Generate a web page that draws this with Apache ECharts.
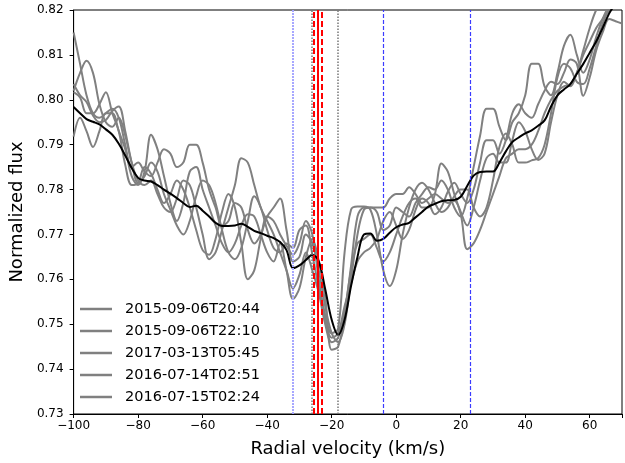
<!DOCTYPE html>
<html>
<head>
<meta charset="utf-8">
<script src="https://cdn.jsdelivr.net/npm/echarts@6/dist/echarts.min.js"></script>
<style>
  html, body { margin: 0; padding: 0; background: #fff; }
  #chart { width: 625px; height: 463px; }
</style>
</head>
<body>
<div id="chart"></div>
<script>
// radial velocity grid (km/s), step 2
var velocity = [];
for (var v = -100; v <= 70; v += 2) velocity.push(v);

var names = ["2015-09-06T20:44", "2015-09-06T22:10", "2017-03-13T05:45", "2016-07-14T02:51", "2016-07-15T02:24"];

var s1 = [0.815, 0.808, 0.801, 0.797, 0.796, 0.797, 0.798, 0.796, 0.790, 0.785,
          0.786, 0.784, 0.783, 0.786, 0.789, 0.788, 0.785, 0.786, 0.790, 0.790,
          0.786, 0.780, 0.776, 0.772, 0.773, 0.777, 0.776, 0.771, 0.768, 0.770,
          0.774, 0.776, 0.778, 0.771, 0.764, 0.765, 0.770, 0.768, 0.762, 0.754,
          0.748, 0.746, 0.750, 0.760, 0.770, 0.7755, 0.776, 0.775, 0.771, 0.772,
          0.776, 0.775, 0.774, 0.777, 0.779, 0.7805, 0.780, 0.782, 0.780, 0.776,
          0.774, 0.778, 0.785, 0.792, 0.798, 0.798, 0.794, 0.791, 0.795, 0.797,
          0.801, 0.808, 0.808, 0.803, 0.801, 0.806, 0.812, 0.8145, 0.810, 0.806,
          0.809, 0.814, 0.818, 0.821, 0.823, 0.824];
var s2 = [0.802, 0.806, 0.8087, 0.806, 0.799, 0.795, 0.794, 0.796, 0.792, 0.786,
          0.782, 0.781, 0.782, 0.779, 0.776, 0.775, 0.778, 0.782, 0.781, 0.776,
          0.770, 0.7645, 0.766, 0.771, 0.776, 0.781, 0.787, 0.786, 0.781, 0.776,
          0.773, 0.770, 0.766, 0.762, 0.758, 0.761, 0.766, 0.762, 0.757, 0.750,
          0.746, 0.747, 0.753, 0.762, 0.768, 0.769, 0.770, 0.767, 0.764, 0.766,
          0.770, 0.774, 0.777, 0.778, 0.776, 0.776, 0.779, 0.7858, 0.784, 0.779,
          0.775, 0.772, 0.776, 0.782, 0.787, 0.788, 0.786, 0.786, 0.791, 0.795,
          0.793, 0.789, 0.7866, 0.788, 0.795, 0.801, 0.804, 0.803, 0.806, 0.810,
          0.813, 0.816, 0.818, 0.820, 0.822, 0.823];
var s3 = [0.7918, 0.796, 0.793, 0.7895, 0.793, 0.797, 0.797, 0.793, 0.789, 0.783,
          0.781, 0.784, 0.7922, 0.789, 0.783, 0.777, 0.773, 0.777, 0.784, 0.785,
          0.780, 0.776, 0.772, 0.768, 0.766, 0.768, 0.772, 0.7745, 0.774, 0.770,
          0.766, 0.764, 0.768, 0.762, 0.7556, 0.758, 0.765, 0.769, 0.764, 0.756,
          0.7443, 0.745, 0.752, 0.763, 0.774, 0.776, 0.776, 0.776, 0.776, 0.778,
          0.779, 0.779, 0.7805, 0.779, 0.777, 0.778, 0.779, 0.778, 0.777, 0.7775,
          0.7745, 0.7667, 0.768, 0.771, 0.775, 0.779, 0.783, 0.787, 0.788, 0.789,
          0.789, 0.790, 0.793, 0.797, 0.800, 0.802, 0.803, 0.8035, 0.806, 0.811,
          0.816, 0.820, 0.822, 0.823, 0.824, 0.825];
var s4 = [0.8035, 0.801, 0.7995, 0.7965, 0.795, 0.7955, 0.7975, 0.7985, 0.793, 0.786,
          0.7815, 0.783, 0.786, 0.784, 0.779, 0.7755, 0.772, 0.770, 0.773, 0.7785,
          0.782, 0.781, 0.777, 0.771, 0.766, 0.7645, 0.767, 0.773, 0.7785, 0.776,
          0.771, 0.767, 0.766, 0.768, 0.767, 0.771, 0.772, 0.7655, 0.758, 0.751,
          0.747, 0.748, 0.754, 0.759, 0.764, 0.766, 0.767, 0.769, 0.773, 0.775,
          0.772, 0.769, 0.771, 0.7755, 0.778, 0.777, 0.7745, 0.776, 0.7795, 0.7815,
          0.779, 0.777, 0.780, 0.786, 0.791, 0.791, 0.788, 0.791, 0.797, 0.799,
          0.797, 0.796, 0.799, 0.802, 0.804, 0.8035, 0.806, 0.809, 0.808, 0.8009,
          0.805, 0.811, 0.815, 0.818, 0.8175, 0.817];
var s5 = [0.8017, 0.8005, 0.797, 0.797, 0.799, 0.8017, 0.797, 0.793, 0.7855, 0.781,
          0.7815, 0.785, 0.7835, 0.780, 0.777, 0.779, 0.782, 0.780, 0.776, 0.771,
          0.7665, 0.7655, 0.769, 0.775, 0.779, 0.776, 0.768, 0.760, 0.762, 0.769,
          0.774, 0.773, 0.770, 0.7675, 0.7655, 0.768, 0.773, 0.770, 0.760, 0.752,
          0.748, 0.749, 0.766, 0.7755, 0.7762, 0.7762, 0.7755, 0.770, 0.762, 0.7585,
          0.762, 0.770, 0.776, 0.780, 0.7815, 0.780, 0.777, 0.775, 0.776, 0.7785,
          0.780, 0.780, 0.776, 0.774, 0.776, 0.782, 0.7895, 0.7925, 0.790, 0.786,
          0.786, 0.7865, 0.787, 0.790, 0.797, 0.805, 0.808, 0.807, 0.804, 0.8035,
          0.807, 0.812, 0.817, 0.820, 0.8215, 0.822];
var meanFlux = [0.7984, 0.7970, 0.7957, 0.7951, 0.7945, 0.7934, 0.7922, 0.7902, 0.7876, 0.7848,
                0.7826, 0.7820, 0.7818, 0.7810, 0.7800, 0.7791, 0.7781, 0.7770, 0.7761, 0.7764,
                0.7753, 0.7740, 0.7726, 0.7719, 0.7719, 0.7720, 0.7724, 0.7717, 0.7708, 0.7703,
                0.7697, 0.7692, 0.7683, 0.7665, 0.7625, 0.7631, 0.7643, 0.7655, 0.7640, 0.7578,
                0.7510, 0.7476, 0.7510, 0.7585, 0.7650, 0.7700, 0.7702, 0.7686, 0.7690, 0.7704,
                0.7716, 0.7722, 0.7726, 0.7738, 0.7750, 0.7762, 0.7768, 0.7774, 0.7776, 0.7777,
                0.7784, 0.7808, 0.7831, 0.7839, 0.7840, 0.7840, 0.7860, 0.7885, 0.7906, 0.7916,
                0.7925, 0.7932, 0.7942, 0.7954, 0.7985, 0.8010, 0.8023, 0.8035, 0.8058, 0.8080,
                0.8105, 0.8130, 0.8160, 0.8192, 0.8215, 0.8240];

// vertical reference velocities
var refLines = [
    { x: -32, color: '#a8a8ff', type: [2, 1], width: 2 },
    { x: -26.3, color: '#777777', type: 'dotted', width: 1.5 },
    { x: -25.6, color: '#ff0000', type: [6, 3], width: 2 },
    { x: -24.4, color: '#ff0000', type: 'solid', width: 2 },
    { x: -23.1, color: '#ff0000', type: [6, 3], width: 2 },
    { x: -18, color: '#777777', type: 'dotted', width: 1.5 },
    { x: -4.15, color: '#3c3cff', type: [4, 2], width: 1.2 },
    { x: 23, color: '#3c3cff', type: [4, 2], width: 1.2 }
];

var font = 'DejaVu Sans';
function pairs(arr) {
    return velocity.map(function (x, i) { return [x, arr[i]]; });
}
function minusSign(v) {
    return String(v).replace('-', '\u2212');
}

var series = refLines.map(function (r) {
    return {
        type: 'line',
        data: [],
        silent: true,
        z: 1,
        markLine: {
            silent: true,
            symbol: 'none',
            label: { show: false },
            emphasis: { disabled: true },
            lineStyle: { color: r.color, type: r.type, width: r.width, opacity: 1 },
            data: [{ xAxis: r.x }]
        }
    };
});
[s1, s2, s3, s4, s5].forEach(function (arr, i) {
    series.push({
        name: names[i],
        type: 'line',
        data: pairs(arr),
        symbol: 'none',
        smooth: 0.35,
        z: 2,
        lineStyle: { color: '#808080', width: 2 },
        itemStyle: { color: '#808080' }
    });
});
series.push({
    name: 'mean',
    type: 'line',
    data: pairs(meanFlux),
    symbol: 'none',
    smooth: 0.35,
    z: 3,
    lineStyle: { color: '#000000', width: 2 }
});

var chart = echarts.init(document.getElementById('chart'));
chart.setOption({
    animation: false,
    grid: { left: 68, right: 0, top: 10, bottom: 45, show: true, borderColor: '#000', borderWidth: 1 },
    legend: {
        data: names,
        orient: 'vertical',
        left: 80,
        top: 301,
        padding: 0,
        itemWidth: 32,
        itemHeight: 2.5,
        itemGap: 6,
        icon: 'rect',
        textStyle: { fontFamily: font, fontSize: 14.5, color: '#000', lineHeight: 16, padding: [0, 0, 0, 8] }
    },
    xAxis: {
        type: 'value',
        min: -100,
        max: 70,
        interval: 20,
        name: 'Radial velocity (km/s)',
        nameLocation: 'middle',
        nameGap: 26,
        nameTextStyle: { fontFamily: font, fontSize: 18, color: '#000' },
        splitLine: { show: false },
        axisLine: { onZero: false, lineStyle: { color: '#000' } },
        axisTick: { length: 4, lineStyle: { color: '#000' } },
        axisLabel: {
            fontFamily: font, fontSize: 12, color: '#000', margin: 6,
            formatter: function (v) { return v === 70 ? '' : minusSign(v); }
        }
    },
    yAxis: {
        type: 'value',
        min: 0.73,
        max: 0.82,
        interval: 0.01,
        name: 'Normalized flux',
        nameLocation: 'middle',
        nameGap: 42,
        nameTextStyle: { fontFamily: font, fontSize: 18, color: '#000' },
        splitLine: { show: false },
        axisLine: { show: true, onZero: false, lineStyle: { color: '#000' } },
        axisTick: { show: true, length: 4, lineStyle: { color: '#000' } },
        axisLabel: {
            fontFamily: font, fontSize: 12, color: '#000', margin: 10,
            formatter: function (v) { return v.toFixed(2); }
        }
    },
    series: series
});
</script>
</body>
</html>
